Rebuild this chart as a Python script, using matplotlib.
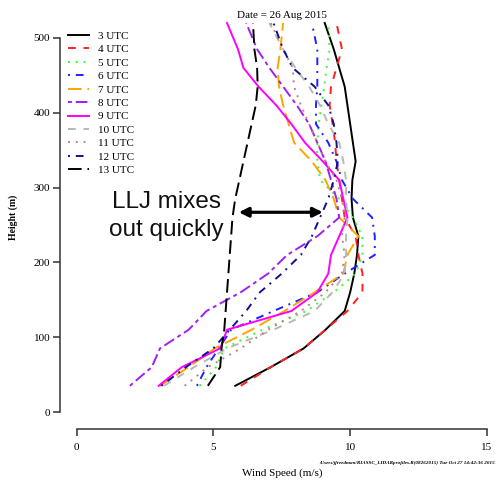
import matplotlib
matplotlib.use("Agg")
import matplotlib.pyplot as plt

plt.rcParams['font.family'] = ['Liberation Serif', 'DejaVu Serif']

# heights (m) and wind speed profiles (m/s)
heights = [35, 60, 85, 110, 135, 160, 185, 210, 235, 260, 285, 310, 335, 360, 385, 410, 435, 460, 485, 520]

utc3 = [5.8, 7.1, 8.3, 9.1, 9.8, 10.0, 10.15, 10.25, 10.3, 10.1, 10.05, 10.08, 10.2, 10.1, 10.0, 9.9, 9.8, 9.6, 9.4, 9.07]
utc4 = [6.0, 7.1, 8.3, 9.1, 9.9, 10.45, 10.45, 10.3, 10.2, 9.8, 9.7, 9.6, 9.5, 9.45, 9.36, 9.25, 9.3, 9.5, 9.7, 9.5]
utc5 = [4.5, 5.1, 5.4, 6.8, 8.4, 9.4, 10.2, 10.45, 10.45, 10.1, 9.6, 8.9, 8.8, 8.8, 8.85, 8.95, 9.05, 9.14, 9.25, 9.2]
utc6 = [4.4, 4.75, 5.2, 5.65, 7.2, 8.8, 9.8, 10.9, 10.9, 10.8, 10.1, 9.7, 9.5, 9.2, 8.75, 8.75, 8.8, 8.8, 8.8, 8.6]
utc7 = [3.05, 4.1, 5.05, 6.4, 7.6, 8.7, 9.75, 9.9, 10.3, 9.6, 9.4, 9.1, 8.6, 7.95, 7.75, 7.55, 7.4, 7.35, 7.45, 7.55]
utc8 = [1.95, 2.75, 3.05, 4.1, 4.75, 6.0, 7.0, 7.7, 8.8, 9.6, 9.5, 9.3, 9.1, 8.8, 8.5, 8.05, 7.55, 7.05, 6.6, 6.2]
utc9 = [3.0, 3.85, 5.25, 5.5, 7.85, 8.8, 9.2, 9.3, 9.6, 9.9, 9.75, 9.6, 9.0, 8.35, 7.85, 7.3, 6.65, 6.1, 5.9, 5.5]
utc10 = [3.2, 4.3, 5.5, 7.2, 8.7, 9.35, 9.8, 9.85, 9.85, 9.9, 9.85, 9.85, 9.75, 9.6, 9.2, 8.9, 8.5, 8.0, 7.55, 7.05]
utc11 = [3.95, 4.8, 6.0, 7.0, 8.2, 9.1, 9.7, 9.8, 9.7, 9.8, 9.7, 9.5, 9.1, 8.8, 8.5, 8.2, 7.95, 7.9, 7.55, 7.1]
utc12 = [3.1, 4.0, 5.0, 5.6, 6.2, 6.7, 7.5, 8.2, 8.6, 8.9, 9.2, 9.4, 9.55, 9.5, 9.4, 9.2, 8.7, 7.9, 7.55, 7.2]
utc13 = [4.8, 5.25, 5.3, 5.4, 5.45, 5.5, 5.55, 5.6, 5.65, 5.7, 5.8, 5.95, 6.1, 6.25, 6.4, 6.55, 6.62, 6.6, 6.5, 6.45]

labels = ["3 UTC", "4 UTC", "5 UTC", "6 UTC", "7 UTC", "8 UTC", "9 UTC",
          "10 UTC", "11 UTC", "12 UTC", "13 UTC"]
series = [utc3, utc4, utc5, utc6, utc7, utc8, utc9, utc10, utc11, utc12, utc13]
colors = ["black", "#FF2020", "#33FF33", "#2020FF", "#FFA500", "#A020F0",
          "#FF00FF", "#B8B8B8", "#C08080", "#101090", "black"]
# R style lty 1..6 recycled
dashes = [None, (4, 4), (1, 3), (1, 3, 4, 3), (7, 3), (2, 2, 6, 2),
          None, (4, 4), (1, 3), (1, 3, 4, 3), (7, 3)]

fig = plt.figure(figsize=(5.02, 4.80), dpi=100)
ax = fig.add_axes([76.5 / 502, 68 / 480, 410.5 / 502, 389 / 480])

for spd, lab, col, ds in zip(series, labels, colors, dashes):
    line, = ax.plot(spd, heights, color=col, lw=1.4, label=lab, clip_on=False)
    if ds is not None:
        line.set_dashes(ds)

ax.set_xlim(0, 15)
ax.set_ylim(0, 520)
ax.set_xticks([0, 5, 10, 15])
ax.set_yticks([0, 100, 200, 300, 400, 500])
ax.set_yticklabels(["0", "100", "200", "300", "400", "500"], rotation=90, va="center")

for s in ["top", "right"]:
    ax.spines[s].set_visible(False)
ax.spines["left"].set_position(("outward", 12))
ax.spines["left"].set_bounds(0, 500)
ax.spines["bottom"].set_position(("outward", 12))
ax.spines["bottom"].set_bounds(0, 15)
for s in ["left", "bottom"]:
    ax.spines[s].set_color("#333333")
    ax.spines[s].set_linewidth(1.1)
ax.tick_params(direction="out", length=5, width=1.1, color="#333333", labelsize=8)
ax.tick_params(axis="x", pad=5)
ax.tick_params(axis="y", pad=2)
ax.patch.set_visible(False)

ax.set_xlabel("Wind Speed (m/s)", fontsize=8, labelpad=12)
ax.set_ylabel("Height (m)", fontsize=7, fontweight="bold", labelpad=11)

fig.text(282 / 502, 1 - 16 / 480, "Date = 26 Aug 2015", ha="center", va="center", fontsize=8)

ax.legend(loc="upper left", bbox_to_anchor=(68 / 502, 1 - 31 / 480),
          bbox_transform=fig.transFigure, frameon=False, fontsize=8,
          handlelength=1.9, handletextpad=0.8, labelspacing=0.33,
          borderpad=0, borderaxespad=0)

# annotation
ax.annotate("", xy=(9.0, 267), xytext=(5.93, 267),
            arrowprops=dict(arrowstyle="<|-|>", lw=2.3, color="black",
                            mutation_scale=14, shrinkA=0, shrinkB=0))
ax.text(3.3, 262, "LLJ mixes\nout quickly", ha="center", va="center",
        fontsize=17.5, family="Liberation Sans", linespacing=1.38, color="#111111")

fig.text(319 / 502, 1 - 463 / 480,
         "/Users/jfreedman/RIASSC_LIDARprofiles.R(08262015) Tue Oct 27 14:42:36 2015",
         ha="left", va="center", fontsize=3.7, fontweight="bold", style="italic")

fig.savefig("out.png", dpi=100)
